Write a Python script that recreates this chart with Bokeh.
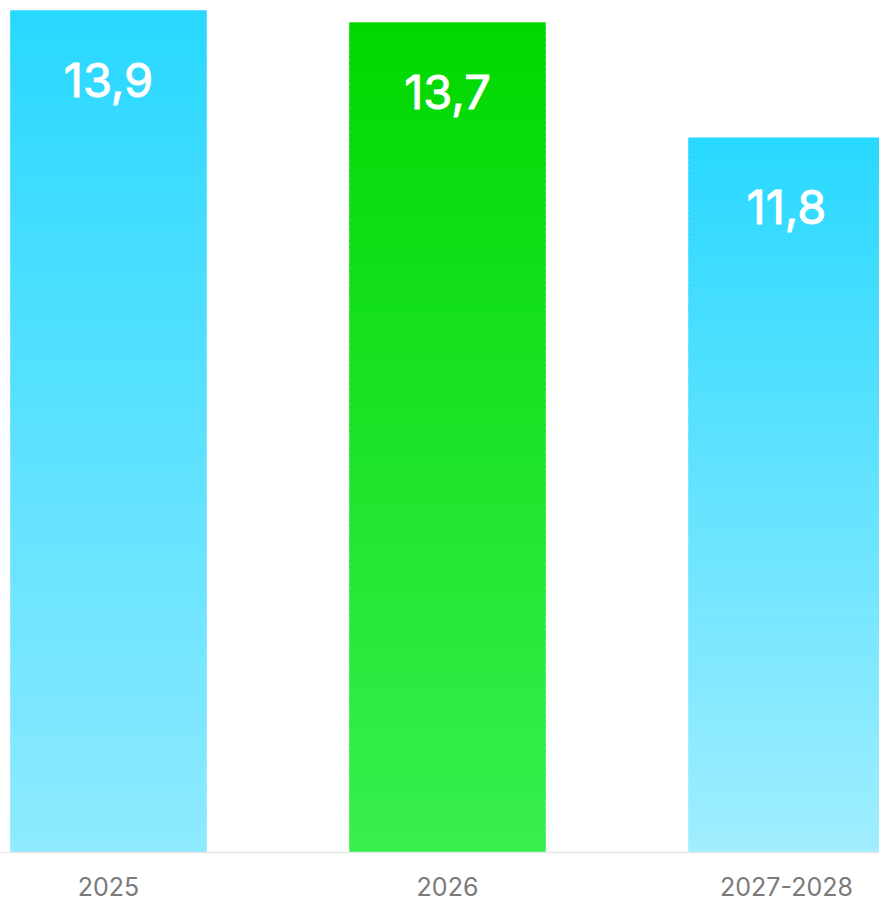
from bokeh.plotting import figure
from bokeh.models import Range1d, ColumnDataSource, Span
from bokeh.core.properties import value
from bokeh.embed import file_html
from bokeh.resources import INLINE

# ---- data ----
categories = ["2025", "2026", "2027-2028"]
values = [13.9, 13.7, 11.8]

# ---- styles (gradient top / bottom colours per bar) ----
top_colors = ["#29D8FF", "#00D800", "#29D8FF"]
bottom_colors = ["#8EEAFF", "#38EF50", "#A0EEFF"]
BAR_W = 0.578
N_STRIPS = 140


def hex_to_rgb(h):
    h = h.lstrip("#")
    return tuple(int(h[i:i + 2], 16) for i in (0, 2, 4))


def mix(c1, c2, t):
    a, b = hex_to_rgb(c1), hex_to_rgb(c2)
    return "#%02x%02x%02x" % tuple(round(a[i] + (b[i] - a[i]) * t) for i in range(3))


xs = list(range(len(categories)))

# build strips of each bar from its value
left, right, bottom, top, color = [], [], [], [], []
for i, v in enumerate(values):
    for k in range(N_STRIPS):
        y0 = v * k / N_STRIPS
        y1 = v * (k + 1) / N_STRIPS
        t = 1 - (k + 0.5) / N_STRIPS  # 0 at top, 1 at bottom
        left.append(xs[i] - BAR_W / 2)
        right.append(xs[i] + BAR_W / 2)
        bottom.append(y0)
        top.append(y1 + (v * 0.002 if k < N_STRIPS - 1 else 0))
        color.append(mix(top_colors[i], bottom_colors[i], t))

strips = ColumnDataSource(dict(left=left, right=right, bottom=bottom, top=top, color=color))

W, H = 879, 901
px_per_unit = 842 / max(values)
y_end = max(values) + 10 / px_per_unit
y_start = -(H - 852) / px_per_unit
x_per_px = 1 / 339
x_start = 0 - 108 * x_per_px
x_end = x_start + W * x_per_px

p = figure(width=W, height=H, output_backend="svg", toolbar_location=None,
           x_range=Range1d(x_start, x_end), y_range=Range1d(y_start, y_end),
           min_border=0, min_border_left=0, min_border_right=0,
           min_border_top=0, min_border_bottom=0)
p.axis.visible = False
p.grid.visible = False
p.outline_line_color = None
p.background_fill_color = "white"
p.border_fill_color = "white"

p.quad(left="left", right="right", bottom="bottom", top="top",
       fill_color="color", line_color="color", line_width=0.5, source=strips)

base = Span(location=0, dimension="width", line_color="#E6E6E6", line_width=1.5)
p.add_layout(base)

labels = ColumnDataSource(dict(
    x=xs, y=values,
    txt=[("%.1f" % v).replace(".", ",") for v in values],
    cat=categories, zero=[0] * len(values),
))

p.text(x="x", y="y", text="txt", source=labels, y_offset=69,
       text_align="center", text_baseline="middle",
       text_color="white", text_font=value("Inter"), text_font_size="47px",
       text_font_style="normal", text_outline_color="white")

p.text(x="x", y="zero", text="cat", source=labels, y_offset=34,
       text_align="center", text_baseline="middle",
       text_color="#7A7A7A", text_font=value("Inter"), text_font_size="25px")

open("out.html", "w").write(file_html(p, INLINE))
